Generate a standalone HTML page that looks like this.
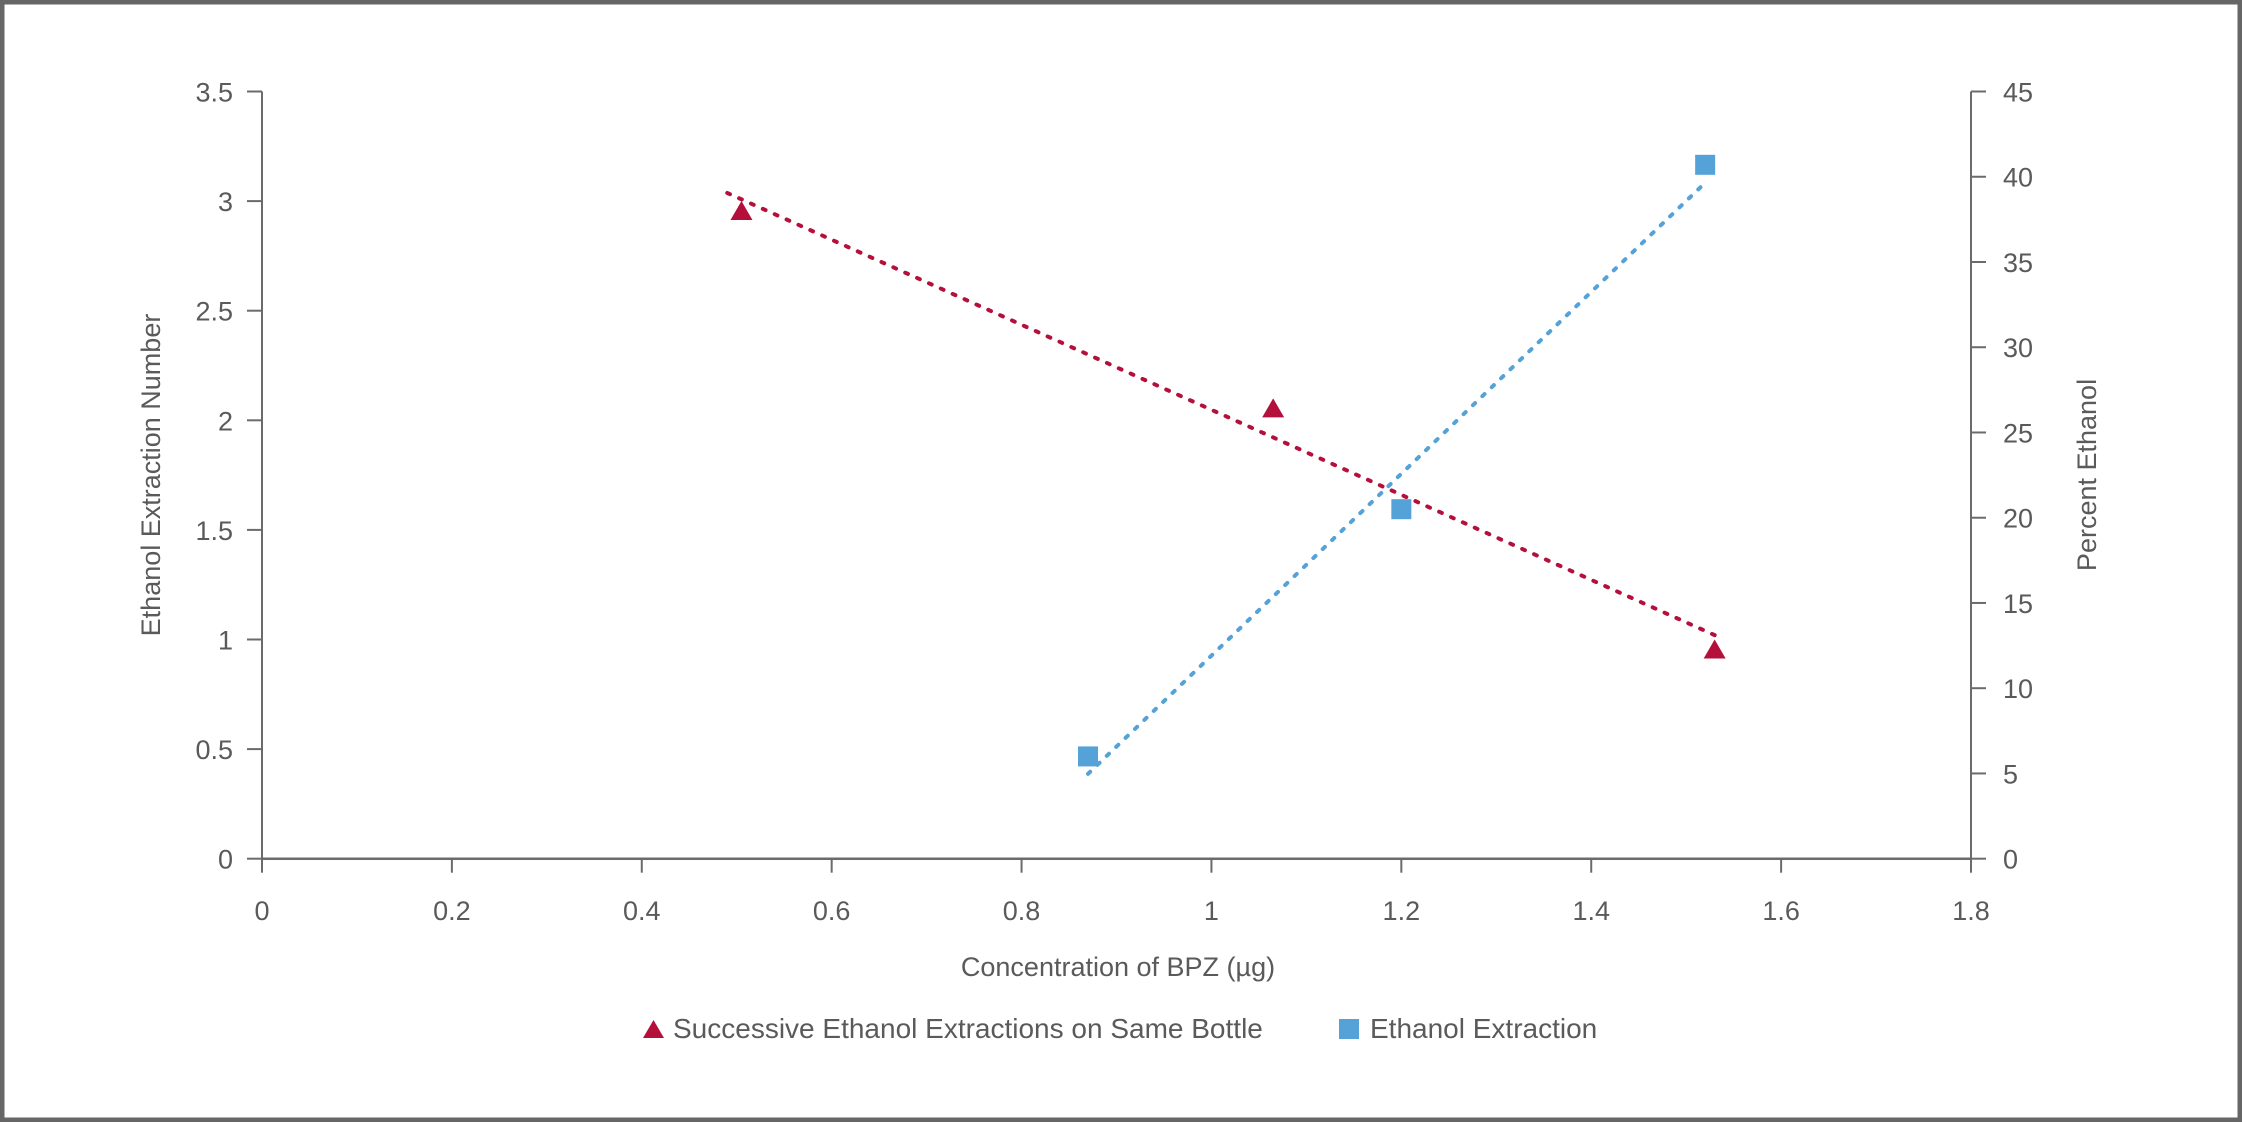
<!DOCTYPE html>
<html><head><meta charset="utf-8"><style>
html,body{margin:0;padding:0;background:#fff}
svg{display:block}
text{font-family:"Liberation Sans",sans-serif;fill:#5a5a5a}
</style></head><body>
<svg id="chart" width="2242" height="1122" viewBox="0 0 2242 1122">
<rect x="2" y="2" width="2238" height="1118" fill="#fff" stroke="#666" stroke-width="5"/>
<g id="axes"></g>
<g id="marks"></g>
<text x="1118" y="976" font-size="27" text-anchor="middle">Concentration of BPZ (µg)</text>
<text transform="translate(160,475) rotate(-90)" font-size="27" text-anchor="middle">Ethanol Extraction Number</text>
<text transform="translate(2096,475) rotate(-90)" font-size="27" text-anchor="middle">Percent Ethanol</text>
<g>
<polygon points="643,1038 664,1038 653.5,1020" fill="#b5103c"/>
<text x="673" y="1038" font-size="28">Successive Ethanol Extractions on Same Bottle</text>
<rect x="1339" y="1019" width="20" height="20" fill="#55a2d8"/>
<text x="1370" y="1038" font-size="28">Ethanol Extraction</text>
</g>
</svg>
<script>
const xTicks = [0,0.2,0.4,0.6,0.8,1,1.2,1.4,1.6,1.8];
const xTickLabels = ["0","0.2","0.4","0.6","0.8","1","1.2","1.4","1.6","1.8"];
const yLeftTicks = [0,0.5,1,1.5,2,2.5,3,3.5];
const yLeftTickLabels = ["0","0.5","1","1.5","2","2.5","3","3.5"];
const yRightTicks = [0,5,10,15,20,25,30,35,40,45];
const yRightTickLabels = ["0","5","10","15","20","25","30","35","40","45"];
const triX = [0.505,1.065,1.53];
const triY = [2.95,2.05,0.95];
const sqX = [0.87,1.2,1.52];
const sqY = [6,20.5,40.7];
const triTrendRange = [0.49,1.53];
const sqTrendRange = [0.87,1.52];

const NS="http://www.w3.org/2000/svg";
const L=262,R=1971,T=91.5,B=858.7;
const sx=v=>L+(v-0)/(1.8-0)*(R-L);
const syL=v=>B-v/3.5*(B-T);
const syR=v=>B-v/45*(B-T);
function mk(tag,attrs,parent){const e=document.createElementNS(NS,tag);for(const k in attrs)e.setAttribute(k,attrs[k]);parent.appendChild(e);return e;}
const axes=document.getElementById('axes'),marks=document.getElementById('marks');
const ax='#6b6b6b';
let e;
e=mk('line',{x1:L,y1:T,x2:L,y2:B,stroke:ax,'stroke-width':2},axes);


e=mk('line',{x1:R,y1:T,x2:R,y2:B,stroke:ax,'stroke-width':2},axes);


e=mk('line',{x1:L,y1:B,x2:R,y2:B,stroke:ax,'stroke-width':2.5},axes);


xTicks.forEach((v,i)=>{
  const x=sx(v);
  e=mk('line',{x1:x,y1:B,x2:x,y2:B+14,stroke:ax,'stroke-width':2},axes);
  
  
  e=mk('text',{x:x,y:920,'font-size':27,'text-anchor':'middle'},axes);e.textContent=xTickLabels[i];
  
  
});
yLeftTicks.forEach((v,i)=>{
  const y=syL(v);
  e=mk('line',{x1:L-15,y1:y,x2:L,y2:y,stroke:ax,'stroke-width':2},axes);
  
  
  e=mk('text',{x:233,y:y+10,'font-size':27,'text-anchor':'end'},axes);e.textContent=yLeftTickLabels[i];
  
  
});
yRightTicks.forEach((v,i)=>{
  const y=syR(v);
  e=mk('line',{x1:R,y1:y,x2:R+15,y2:y,stroke:ax,'stroke-width':2},axes);
  
  
  e=mk('text',{x:2003,y:y+10,'font-size':27,'text-anchor':'start'},axes);e.textContent=yRightTickLabels[i];
  
  
});
function fit(xs,ys){const n=xs.length;const mx=xs.reduce((a,b)=>a+b)/n,my=ys.reduce((a,b)=>a+b)/n;let sxy=0,sxx=0;for(let i=0;i<n;i++){sxy+=(xs[i]-mx)*(ys[i]-my);sxx+=(xs[i]-mx)**2;}const m=sxy/sxx;return x=>my+m*(x-mx);}
const fT=fit(triX,triY),fS=fit(sqX,sqY);
e=mk('line',{x1:sx(triTrendRange[0]),y1:syL(fT(triTrendRange[0])),x2:sx(triTrendRange[1]),y2:syL(fT(triTrendRange[1])),stroke:'#b5103c','stroke-width':4,'stroke-dasharray':'3 10','stroke-linecap':'round'},marks);


e=mk('line',{x1:sx(sqTrendRange[0]),y1:syR(fS(sqTrendRange[0])),x2:sx(sqTrendRange[1]),y2:syR(fS(sqTrendRange[1])),stroke:'#55a2d8','stroke-width':4,'stroke-dasharray':'3 10','stroke-linecap':'round'},marks);


triX.forEach((v,i)=>{
  const x=sx(v),y=syL(triY[i]);
  e=mk('polygon',{points:`${x-11},${y+8} ${x+11},${y+8} ${x},${y-11}`,fill:'#b5103c'},marks);
  
  
});
sqX.forEach((v,i)=>{
  const x=sx(v),y=syR(sqY[i]);
  e=mk('rect',{x:x-10,y:y-10,width:20,height:20,fill:'#55a2d8'},marks);
  
  
});
</script>
</body></html>
